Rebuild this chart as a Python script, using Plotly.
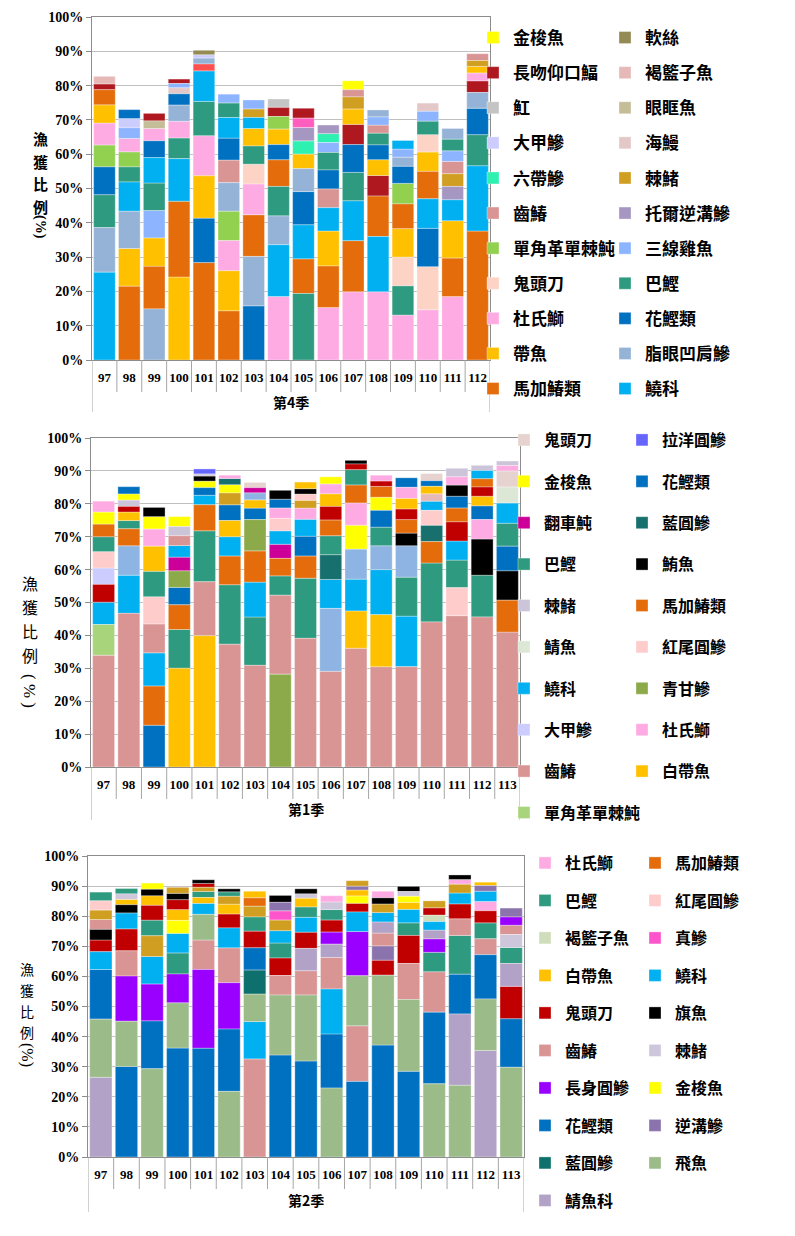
import plotly.graph_objects as go

W, H = 795, 1236
OFF = 8  # the page body adds an 8px margin; positions below are in screenshot pixels
CJK = "Noto Sans CJK TC"
SERIF = "Liberation Serif"

# ======================= DATA =======================
# ---- Panel 1: 第4季 ----
q4_years = ["97", "98", "99", "100", "101", "102", "103", "104",
            "105", "106", "107", "108", "109", "110", "111", "112"]
q4_species = [
    ["鱙科", "脂眼凹肩鰺", "巴鰹", "花鰹類", "單角革單棘魨", "杜氏鰤", "帶魚", "馬加鰆類", "長吻仰口鰏", "褐籃子魚"],
    ["馬加鰆類", "帶魚", "脂眼凹肩鰺", "鱙科", "巴鰹", "單角革單棘魨", "杜氏鰤", "三線雞魚", "大甲鰺", "花鰹類"],
    ["脂眼凹肩鰺", "馬加鰆類", "帶魚", "三線雞魚", "巴鰹", "鱙科", "花鰹類", "杜氏鰤", "眼眶魚", "長吻仰口鰏"],
    ["帶魚", "馬加鰆類", "鱙科", "巴鰹", "杜氏鰤", "脂眼凹肩鰺", "花鰹類", "海鰻", "三線雞魚", "長吻仰口鰏"],
    ["馬加鰆類", "花鰹類", "帶魚", "杜氏鰤", "巴鰹", "鱙科", "其他(紅)", "脂眼凹肩鰺", "大甲鰺", "軟絲"],
    ["馬加鰆類", "帶魚", "杜氏鰤", "單角革單棘魨", "脂眼凹肩鰺", "齒鰆", "花鰹類", "鱙科", "巴鰹", "三線雞魚"],
    ["花鰹類", "脂眼凹肩鰺", "馬加鰆類", "杜氏鰤", "鬼頭刀", "巴鰹", "帶魚", "鱙科", "棘鯺", "三線雞魚"],
    ["杜氏鰤", "鱙科", "脂眼凹肩鰺", "巴鰹", "馬加鰆類", "花鰹類", "帶魚", "單角革單棘魨", "長吻仰口鰏", "魟"],
    ["巴鰹", "馬加鰆類", "鱙科", "花鰹類", "脂眼凹肩鰺", "帶魚", "六帶鰺", "托爾逆溝鰺", "其他(桃紅)", "長吻仰口鰏"],
    ["杜氏鰤", "馬加鰆類", "帶魚", "鱙科", "齒鰆", "花鰹類", "巴鰹", "三線雞魚", "六帶鰺", "托爾逆溝鰺"],
    ["杜氏鰤", "馬加鰆類", "鱙科", "巴鰹", "花鰹類", "長吻仰口鰏", "帶魚", "棘鯺", "齒鰆", "金梭魚"],
    ["杜氏鰤", "鱙科", "馬加鰆類", "長吻仰口鰏", "帶魚", "花鰹類", "巴鰹", "齒鰆", "三線雞魚", "脂眼凹肩鰺"],
    ["杜氏鰤", "巴鰹", "鬼頭刀", "帶魚", "馬加鰆類", "單角革單棘魨", "花鰹類", "脂眼凹肩鰺", "三線雞魚", "鱙科"],
    ["杜氏鰤", "鬼頭刀", "花鰹類", "鱙科", "馬加鰆類", "帶魚", "鬼頭刀", "巴鰹", "三線雞魚", "海鰻"],
    ["杜氏鰤", "馬加鰆類", "帶魚", "鱙科", "托爾逆溝鰺", "棘鯺", "齒鰆", "三線雞魚", "巴鰹", "脂眼凹肩鰺"],
    ["馬加鰆類", "鱙科", "巴鰹", "花鰹類", "脂眼凹肩鰺", "長吻仰口鰏", "杜氏鰤", "帶魚", "棘鯺", "齒鰆"],
]
q4_values = [
    [25.6, 13.0, 9.6, 8.1, 6.4, 6.4, 5.3, 4.4, 1.7, 2.2],
    [21.5, 11.0, 10.9, 8.5, 4.4, 4.4, 3.9, 3.1, 2.7, 2.6],
    [14.9, 12.4, 8.3, 8.0, 8.0, 7.4, 4.9, 3.6, 2.2, 2.2],
    [24.2, 22.1, 12.4, 6.0, 4.9, 4.7, 3.3, 1.8, 1.2, 1.3],
    [28.4, 12.9, 12.4, 11.7, 10.0, 8.9, 2.0, 1.7, 1.0, 1.3],
    [14.3, 11.7, 8.8, 8.6, 8.3, 6.6, 6.4, 6.0, 4.2, 2.6],
    [15.8, 14.4, 12.1, 9.0, 5.8, 5.3, 5.1, 3.2, 2.5, 2.6],
    [18.5, 15.1, 8.4, 8.6, 7.8, 4.4, 4.5, 3.7, 2.7, 2.4],
    [19.4, 10.1, 9.9, 9.7, 6.7, 4.2, 3.9, 3.9, 2.7, 2.9],
    [15.3, 12.1, 10.2, 6.8, 5.5, 5.5, 5.1, 2.9, 2.6, 2.5],
    [19.9, 14.9, 11.6, 8.3, 8.1, 5.9, 4.5, 3.5, 2.1, 2.6],
    [19.9, 16.1, 11.8, 6.0, 4.6, 4.3, 3.4, 2.4, 2.4, 2.0],
    [13.1, 8.5, 8.4, 8.3, 7.2, 6.0, 5.0, 2.6, 2.4, 2.5],
    [14.6, 12.6, 11.2, 8.6, 8.0, 5.6, 5.1, 3.9, 2.9, 2.4],
    [18.5, 11.2, 10.9, 6.1, 3.9, 3.7, 3.6, 3.1, 3.4, 3.1],
    [37.6, 19.0, 9.1, 7.7, 4.6, 3.4, 2.3, 1.9, 1.7, 2.0],
]
q4_legend_left = ["金梭魚", "長吻仰口鰏", "魟", "大甲鰺", "六帶鰺", "齒鰆",
                  "單角革單棘魨", "鬼頭刀", "杜氏鰤", "帶魚", "馬加鰆類"]
q4_legend_right = ["軟絲", "褐籃子魚", "眼眶魚", "海鰻", "棘鯺", "托爾逆溝鰺",
                   "三線雞魚", "巴鰹", "花鰹類", "脂眼凹肩鰺", "鱙科"]

# ---- Panel 2: 第1季 ----
q1_years = ["97", "98", "99", "100", "101", "102", "103", "104", "105",
            "106", "107", "108", "109", "110", "111", "112", "113"]
q1_species = [
    ["齒鰆", "單角革單棘魨", "鱙科", "其他(紅)", "大甲鰺", "紅尾圓鰺", "巴鰹", "馬加鰆類", "金梭魚", "杜氏鰤"],
    ["齒鰆", "鱙科", "其他(藍)", "馬加鰆類", "巴鰹", "白帶魚", "其他(紅)", "棘鯺", "金梭魚", "花鰹類"],
    ["花鰹類", "馬加鰆類", "鱙科", "齒鰆", "紅尾圓鰺", "巴鰹", "白帶魚", "杜氏鰤", "金梭魚", "鮪魚"],
    ["白帶魚", "巴鰹", "馬加鰆類", "花鰹類", "青甘鰺", "翻車魨", "鱙科", "齒鰆", "棘鯺", "金梭魚"],
    ["白帶魚", "齒鰆", "巴鰹", "馬加鰆類", "鱙科", "花鰹類", "金梭魚", "鮪魚", "棘鯺", "拉洋圓鰺"],
    ["齒鰆", "巴鰹", "馬加鰆類", "鱙科", "白帶魚", "花鰹類", "其他(金)", "金梭魚", "藍圓鰺", "杜氏鰤"],
    ["齒鰆", "巴鰹", "鱙科", "馬加鰆類", "青甘鰺", "花鰹類", "白帶魚", "其他(藍)", "翻車魨", "鬼頭刀"],
    ["青甘鰺", "齒鰆", "巴鰹", "馬加鰆類", "翻車魨", "鱙科", "紅尾圓鰺", "杜氏鰤", "花鰹類", "鮪魚"],
    ["齒鰆", "巴鰹", "馬加鰆類", "花鰹類", "鱙科", "杜氏鰤", "其他(金)", "紅尾圓鰺", "鮪魚", "白帶魚"],
    ["齒鰆", "其他(藍)", "鱙科", "藍圓鰺", "巴鰹", "馬加鰆類", "其他(紅)", "白帶魚", "杜氏鰤", "金梭魚"],
    ["齒鰆", "白帶魚", "鱙科", "其他(藍)", "金梭魚", "杜氏鰤", "馬加鰆類", "巴鰹", "其他(紅)", "鮪魚"],
    ["齒鰆", "白帶魚", "鱙科", "其他(藍)", "巴鰹", "花鰹類", "金梭魚", "馬加鰆類", "其他(紅)", "杜氏鰤"],
    ["齒鰆", "鱙科", "巴鰹", "其他(藍)", "鮪魚", "馬加鰆類", "其他(紅)", "白帶魚", "杜氏鰤", "花鰹類"],
    ["齒鰆", "巴鰹", "馬加鰆類", "藍圓鰺", "紅尾圓鰺", "鱙科", "其他(褐)", "白帶魚", "花鰹類", "鬼頭刀"],
    ["齒鰆", "紅尾圓鰺", "巴鰹", "鱙科", "其他(紅)", "馬加鰆類", "花鰹類", "鮪魚", "杜氏鰤", "棘鯺"],
    ["齒鰆", "巴鰹", "鮪魚", "杜氏鰤", "花鰹類", "白帶魚", "其他(紅)", "馬加鰆類", "鱙科", "棘鯺"],
    ["齒鰆", "馬加鰆類", "鮪魚", "花鰹類", "巴鰹", "鱙科", "鯖魚", "鬼頭刀", "杜氏鰤", "棘鯺"],
]
q1_values = [
    [34.0, 9.3, 6.8, 5.4, 5.0, 4.9, 4.6, 3.8, 3.7, 3.3],
    [46.7, 11.6, 8.9, 5.2, 2.5, 2.6, 1.7, 1.9, 1.9, 2.2],
    [12.7, 11.9, 10.1, 8.8, 8.2, 7.8, 7.6, 5.2, 3.8, 2.8],
    [30.0, 11.8, 7.5, 5.3, 5.0, 4.2, 3.5, 3.0, 2.8, 3.0],
    [39.9, 16.4, 15.5, 7.9, 2.9, 2.3, 2.0, 1.5, 0.7, 1.5],
    [37.3, 18.1, 8.7, 5.9, 4.9, 4.8, 3.6, 2.5, 1.9, 1.0],
    [30.9, 14.7, 10.6, 9.5, 9.5, 3.5, 2.5, 2.1, 1.6, 1.6],
    [28.2, 24.0, 5.9, 5.3, 4.3, 4.1, 3.8, 3.1, 2.7, 2.7],
    [39.1, 18.3, 6.7, 6.0, 5.2, 3.4, 2.3, 1.9, 1.7, 2.0],
    [29.1, 19.1, 8.8, 7.5, 5.8, 4.8, 4.1, 3.8, 3.0, 2.2],
    [36.1, 11.3, 9.7, 9.1, 7.3, 6.7, 5.5, 4.7, 1.7, 1.1],
    [30.5, 15.8, 13.7, 7.2, 5.7, 5.1, 4.0, 3.3, 1.6, 1.8],
    [30.5, 15.3, 11.9, 9.5, 3.9, 4.1, 3.2, 3.2, 3.4, 2.9],
    [44.1, 17.9, 6.5, 5.0, 4.5, 2.8, 2.2, 2.3, 1.7, 2.2],
    [46.0, 8.5, 8.4, 5.8, 5.8, 4.2, 3.6, 3.4, 2.5, 2.6],
    [45.6, 12.7, 11.0, 5.9, 4.2, 2.9, 2.8, 2.5, 2.5, 1.6],
    [41.0, 9.7, 8.9, 7.5, 7.0, 6.1, 4.9, 4.9, 1.6, 1.4],
]
q1_legend_left = ["鬼頭刀", "金梭魚", "翻車魨", "巴鰹", "棘鯺", "鯖魚",
                  "鱙科", "大甲鰺", "齒鰆", "單角革單棘魨"]
q1_legend_right = ["拉洋圓鰺", "花鰹類", "藍圓鰺", "鮪魚", "馬加鰆類",
                   "紅尾圓鰺", "青甘鰺", "杜氏鰤", "白帶魚"]

# ---- Panel 3: 第2季 ----
q2_years = ["97", "98", "99", "100", "101", "102", "103", "104", "105",
            "106", "107", "108", "109", "110", "111", "112", "113"]
q2_species = [
    ["鯖魚科", "飛魚", "花鰹類", "鱙科", "鬼頭刀", "旗魚", "齒鰆", "其他(金)", "紅尾圓鰺", "巴鰹"],
    ["花鰹類", "飛魚", "長身圓鰺", "齒鰆", "鬼頭刀", "鱙科", "旗魚", "白帶魚", "棘鯺", "巴鰹"],
    ["飛魚", "花鰹類", "長身圓鰺", "鱙科", "其他(金)", "巴鰹", "鬼頭刀", "白帶魚", "旗魚", "金梭魚"],
    ["花鰹類", "飛魚", "長身圓鰺", "巴鰹", "鱙科", "金梭魚", "白帶魚", "鬼頭刀", "旗魚", "其他(金)"],
    ["花鰹類", "長身圓鰺", "齒鰆", "飛魚", "鱙科", "白帶魚", "巴鰹", "其他(金)", "鬼頭刀", "旗魚"],
    ["飛魚", "花鰹類", "長身圓鰺", "齒鰆", "鱙科", "鬼頭刀", "白帶魚", "其他(金)", "巴鰹", "旗魚"],
    ["齒鰆", "鱙科", "飛魚", "藍圓鰺", "花鰹類", "鬼頭刀", "巴鰹", "其他(金)", "馬加鰆類", "白帶魚"],
    ["花鰹類", "飛魚", "齒鰆", "鬼頭刀", "巴鰹", "鱙科", "其他(金)", "真鰺", "逆溝鰺", "旗魚"],
    ["花鰹類", "飛魚", "齒鰆", "鯖魚科", "鬼頭刀", "鱙科", "巴鰹", "白帶魚", "棘鯺", "旗魚"],
    ["飛魚", "花鰹類", "鱙科", "齒鰆", "鯖魚科", "長身圓鰺", "鬼頭刀", "巴鰹", "棘鯺", "杜氏鰤"],
    ["花鰹類", "齒鰆", "飛魚", "長身圓鰺", "鱙科", "鬼頭刀", "金梭魚", "白帶魚", "逆溝鰺", "其他(金)"],
    ["花鰹類", "飛魚", "鬼頭刀", "逆溝鰺", "齒鰆", "鯖魚科", "鱙科", "其他(金)", "旗魚", "杜氏鰤"],
    ["花鰹類", "飛魚", "齒鰆", "鬼頭刀", "巴鰹", "鱙科", "白帶魚", "金梭魚", "棘鯺", "旗魚"],
    ["飛魚", "花鰹類", "齒鰆", "巴鰹", "長身圓鰺", "鯖魚科", "鱙科", "褐籃子魚", "鬼頭刀", "其他(金)"],
    ["飛魚", "鯖魚科", "花鰹類", "巴鰹", "齒鰆", "鬼頭刀", "鱙科", "其他(金)", "杜氏鰤", "旗魚"],
    ["鯖魚科", "飛魚", "花鰹類", "齒鰆", "巴鰹", "鬼頭刀", "杜氏鰤", "鱙科", "逆溝鰺", "白帶魚"],
    ["飛魚", "花鰹類", "鬼頭刀", "鯖魚科", "巴鰹", "棘鯺", "齒鰆", "長身圓鰺", "逆溝鰺"],
]
q2_values = [
    [26.5, 19.3, 16.5, 5.9, 3.9, 3.5, 3.3, 3.1, 3.1, 2.9],
    [30.1, 15.0, 15.0, 8.4, 7.3, 5.3, 2.7, 1.8, 1.8, 1.8],
    [29.3, 15.9, 12.3, 9.1, 6.9, 5.2, 4.9, 3.2, 2.2, 2.0],
    [36.2, 15.0, 9.6, 7.0, 6.5, 4.3, 3.6, 3.3, 2.1, 2.0],
    [36.1, 26.2, 9.8, 8.5, 3.6, 2.0, 2.0, 1.4, 1.3, 1.2],
    [21.8, 20.7, 15.4, 11.6, 6.6, 4.6, 3.3, 2.6, 1.5, 1.0],
    [32.6, 12.4, 9.1, 8.0, 7.4, 5.5, 4.8, 3.5, 2.8, 2.2],
    [33.9, 19.9, 6.5, 5.8, 5.0, 4.1, 3.5, 3.1, 2.8, 2.3],
    [31.9, 21.9, 8.1, 7.4, 5.4, 4.9, 3.5, 2.9, 1.4, 1.7],
    [22.9, 18.0, 14.9, 10.5, 4.4, 4.0, 4.0, 3.5, 2.5, 2.1],
    [25.1, 18.5, 16.6, 14.7, 6.5, 2.9, 2.4, 2.0, 1.3, 1.8],
    [37.2, 23.2, 5.0, 4.7, 4.3, 3.7, 3.1, 2.8, 2.1, 2.2],
    [28.5, 23.8, 12.0, 9.3, 4.2, 4.4, 2.4, 2.0, 1.6, 1.7],
    [24.3, 23.8, 13.4, 6.5, 4.5, 2.9, 2.8, 2.2, 2.4, 2.3],
    [23.8, 23.7, 13.2, 12.9, 5.5, 5.0, 3.6, 2.9, 1.6, 1.5],
    [35.4, 17.1, 14.7, 5.3, 5.3, 4.0, 3.1, 3.4, 1.9, 1.1],
    [29.8, 16.1, 10.8, 7.6, 5.3, 4.3, 3.1, 2.8, 2.9],
]
q2_legend_left = ["杜氏鰤", "巴鰹", "褐籃子魚", "白帶魚", "鬼頭刀", "齒鰆",
                  "長身圓鰺", "花鰹類", "藍圓鰺", "鯖魚科"]
q2_legend_right = ["馬加鰆類", "紅尾圓鰺", "真鰺", "鱙科", "旗魚", "棘鯺",
                   "金梭魚", "逆溝鰺", "飛魚"]

# ======================= STYLES =======================
q4_colors = {
    "金梭魚": "#FFFF00", "軟絲": "#948A54", "長吻仰口鰏": "#B01820", "褐籃子魚": "#E6B9B8",
    "魟": "#C4C4C4", "眼眶魚": "#C4BD97", "大甲鰺": "#CCCCFF", "海鰻": "#E4C8C8",
    "六帶鰺": "#2EF0B0", "棘鯺": "#D09E21", "齒鰆": "#D99594", "托爾逆溝鰺": "#A597C2",
    "單角革單棘魨": "#92D050", "三線雞魚": "#8DB4FF", "鬼頭刀": "#FCD3C4", "巴鰹": "#2E9A7F",
    "杜氏鰤": "#FFABE3", "花鰹類": "#0070C0", "帶魚": "#FFC000", "脂眼凹肩鰺": "#95B3D7",
    "馬加鰆類": "#E46C0A", "鱙科": "#00B0F0", "其他(紅)": "#FF5050", "其他(桃紅)": "#FF5EBE",
}
q1_colors = {
    "鬼頭刀": "#E6D3CF", "拉洋圓鰺": "#6666FF", "金梭魚": "#FFFF00", "花鰹類": "#0070C0",
    "翻車魨": "#CC0099", "藍圓鰺": "#17706E", "巴鰹": "#2E9A7F", "鮪魚": "#000000",
    "棘鯺": "#CCC5D9", "馬加鰆類": "#E46C0A", "鯖魚": "#DDE7D5", "紅尾圓鰺": "#FFCCCC",
    "鱙科": "#00B0F0", "青甘鰺": "#8DAA4A", "大甲鰺": "#CCCCFF", "杜氏鰤": "#FFABE3",
    "齒鰆": "#D99594", "白帶魚": "#FFC000", "單角革單棘魨": "#A8D47C",
    "其他(紅)": "#C00000", "其他(藍)": "#8DB4E2", "其他(金)": "#D09E21", "其他(褐)": "#E6B9B8",
}
q2_colors = {
    "杜氏鰤": "#FFABE3", "馬加鰆類": "#E46C0A", "巴鰹": "#2E9A7F", "紅尾圓鰺": "#FFCCCC",
    "褐籃子魚": "#D0DDBB", "真鰺": "#FF55CC", "白帶魚": "#FFC000", "鱙科": "#00B0F0",
    "鬼頭刀": "#C00000", "旗魚": "#000000", "齒鰆": "#D99594", "棘鯺": "#CEC6DA",
    "長身圓鰺": "#9900FF", "金梭魚": "#FFFF00", "花鰹類": "#0070C0", "逆溝鰺": "#8B74AD",
    "藍圓鰺": "#0E706C", "飛魚": "#9BBB89", "鯖魚科": "#B3A2C7", "其他(金)": "#D09E21",
}


def px(x):
    return (x - OFF) / W


def py(y):
    return 1 - (y - OFF) / H


fig = go.Figure()

panels = [
    dict(years=q4_years, species=q4_species, values=q4_values, colors=q4_colors,
         leg_l=q4_legend_left, leg_r=q4_legend_right, idx=1, box=(92, 490, 17, 360),
         label="第4季", label_y=402, outer=412, legends=("legend", "legend2"),
         leg_x=(483, 615), leg_top=20, leg_gap=10, leg_size=17,
         title=dict(x=40, bold=True, size=15, ys=[138, 161, 184, 206],
                    pct="(%)", pct_size=14, pct_y=227)),
    dict(years=q1_years, species=q1_species, values=q1_values, colors=q1_colors,
         leg_l=q1_legend_left, leg_r=q1_legend_right, idx=2, box=(91, 520, 438, 767),
         label="第1季", label_y=809, outer=820, legends=("legend3", "legend4"),
         leg_x=(514, 632), leg_top=423, leg_gap=17.6, leg_size=16,
         title=dict(x=30, bold=False, size=16, ys=[583, 607, 631, 655],
                    pct="( % )", pct_size=17, pct_y=691)),
    dict(years=q2_years, species=q2_species, values=q2_values, colors=q2_colors,
         leg_l=q2_legend_left, leg_r=q2_legend_right, idx=3, box=(88, 524, 856, 1157),
         label="第2季", label_y=1200, outer=1212, legends=("legend5", "legend6"),
         leg_x=(535, 645), leg_top=846, leg_gap=13.7, leg_size=16,
         title=dict(x=27, bold=False, size=14, ys=[969, 990, 1011, 1032],
                    pct="(%)", pct_size=16, pct_y=1055)),
]

shapes = []
annotations = []
layout_extra = {}

for p in panels:
    segs = {}
    for yr, sps, vals in zip(p["years"], p["species"], p["values"]):
        base = 0.0
        for sp, v in zip(sps, vals):
            s = segs.setdefault(sp, {"x": [], "y": [], "b": []})
            s["x"].append(yr)
            s["y"].append(v)
            s["b"].append(round(base, 3))
            base += v
    i = p["idx"]
    xa = "x" if i == 1 else f"x{i}"
    ya = "y" if i == 1 else f"y{i}"
    legL, legR = p["legends"]
    listed = p["leg_l"] + p["leg_r"]
    names = listed + [n for n in segs if n not in listed]
    for n in names:
        s = segs.get(n, {"x": [], "y": [], "b": []})
        shown = n in listed
        kw = {}
        if shown:
            kw["legendgroup"] = f"p{i}-{n}"
        fig.add_trace(go.Bar(
            x=s["x"], y=s["y"], base=s["b"], name=n,
            marker=dict(color=p["colors"][n], line=dict(color="rgba(255,255,255,0.55)", width=0.6)),
            xaxis=xa, yaxis=ya,
            legend=legL if n in p["leg_l"] else legR,
            showlegend=shown,
            hovertemplate="%{x}: %{y:.1f}%<extra>" + n + "</extra>",
            **kw,
        ))

    l, r, t, b = p["box"]
    n_cat = len(p["years"])
    axname_x = "xaxis" if i == 1 else f"xaxis{i}"
    axname_y = "yaxis" if i == 1 else f"yaxis{i}"
    layout_extra[axname_x] = dict(
        domain=[px(l), px(r)], anchor=ya, type="category",
        categoryorder="array", categoryarray=p["years"],
        range=[-0.5, n_cat - 0.5], showgrid=False, zeroline=False,
        showline=True, linecolor="#8C8C8C", linewidth=1, mirror=True,
        ticks="", ticklabelstandoff=5,
        tickfont=dict(family=SERIF, size=13, color="black", weight="bold"),
    )
    layout_extra[axname_y] = dict(
        domain=[py(b), py(t)], anchor=xa, range=[0, 100], dtick=10,
        ticksuffix="%", showgrid=True, gridcolor="#C0C0C0", gridwidth=1,
        zeroline=False, showline=True, linecolor="#8C8C8C", linewidth=1,
        mirror=True, ticks="outside", ticklen=5, tickcolor="#8C8C8C",
        tickfont=dict(family=SERIF, size=14, color="black", weight="bold"),
    )
    for k in range(n_cat + 1):
        y_end = p["outer"] if k in (0, n_cat) else b + 32
        shapes.append(dict(type="line", xref=xa, yref="paper",
                           x0=k - 0.5, x1=k - 0.5, y0=py(b), y1=py(y_end),
                           line=dict(color="#A6A6A6", width=1)))
    annotations.append(dict(text="<b>" + p["label"] + "</b>", x=px((l + r) / 2), y=py(p["label_y"]),
                            xref="paper", yref="paper", showarrow=False,
                            xanchor="center", yanchor="middle",
                            font=dict(family=CJK, size=14, color="black")))
    # vertical axis title: 漁獲比例(%)
    tt = p["title"]
    for ch, yy in zip(["漁", "獲", "比", "例"], tt["ys"]):
        txt = f"<b>{ch}</b>" if tt["bold"] else ch
        annotations.append(dict(text=txt, x=px(tt["x"]), y=py(yy),
                                xref="paper", yref="paper", showarrow=False,
                                xanchor="center", yanchor="middle",
                                font=dict(family=CJK, size=tt["size"], color="black")))
    pct = "<b>" + tt["pct"] + "</b>" if tt["bold"] else tt["pct"]
    annotations.append(dict(text=pct, x=px(tt["x"]), y=py(tt["pct_y"]),
                            xref="paper", yref="paper", showarrow=False,
                            xanchor="center", yanchor="middle", textangle=90,
                            font=dict(family=SERIF, size=tt["pct_size"], color="black")))
    for name, lx in zip(p["legends"], p["leg_x"]):
        layout_extra[name] = dict(
            x=px(lx), y=py(p["leg_top"]), xanchor="left", yanchor="top",
            orientation="v", bgcolor="rgba(0,0,0,0)", borderwidth=0,
            traceorder="grouped", tracegroupgap=p["leg_gap"], indentation=-10,
            font=dict(family=CJK, size=p["leg_size"], color="black", weight="bold"),
        )

fig.update_layout(
    width=W, height=H, barmode="overlay", bargap=0.13,
    margin=dict(l=0, r=0, t=0, b=0, autoexpand=False),
    paper_bgcolor="white", plot_bgcolor="white",
    shapes=shapes, annotations=annotations,
    **layout_extra,
)

fig.write_html("out.html")
